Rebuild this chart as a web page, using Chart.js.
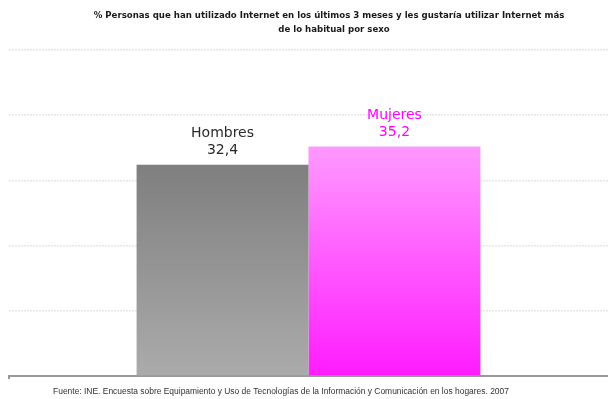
<!DOCTYPE html>
<html>
<head>
<meta charset="utf-8">
<script src="https://cdn.jsdelivr.net/npm/chart.js@4/dist/chart.umd.min.js"></script>
<style>
  html, body { margin: 0; padding: 0; background: #ffffff; }
  #wrap { position: relative; width: 608px; height: 399px; }
</style>
</head>
<body>
<div id="wrap"><canvas id="c" width="608" height="399"></canvas></div>
<script>
// Porcentaje de personas que desearían usar Internet más de lo habitual, por sexo
const categories = ['Hombres', 'Mujeres'];
const values = [32.4, 35.2];
const labelColors = ['#2a2a2a', '#ff00ff'];
const titleLines = [
  '% Personas que han utilizado Internet en los últimos 3 meses y les gustaría utilizar Internet más',
  'de lo habitual por sexo'
];
const sourceText = 'Fuente: INE. Encuesta sobre Equipamiento y Uso de Tecnologías de la Información y Comunicación en los hogares. 2007';
const yTicks = [0, 10, 20, 30, 40, 50];

// vertical gradients for each bar
const gradientStops = [
  ['#7f7f7f', '#ababab'],
  ['#ff99ff', '#ff1cff']
];

function barGradient(i) {
  return function (ctx) {
    const chart = ctx.chart;
    const area = chart.chartArea;
    const y = chart.scales && chart.scales.y;
    if (!area || !y) return gradientStops[i][0];
    const top = y.getPixelForValue(values[i]);
    if (!isFinite(top) || !isFinite(area.bottom)) return gradientStops[i][0];
    const g = chart.ctx.createLinearGradient(0, top, 0, area.bottom);
    g.addColorStop(0, gradientStops[i][0]);
    g.addColorStop(1, gradientStops[i][1]);
    return g;
  };
}

const fmt = v => v.toFixed(1).replace('.', ',');

// name + value above each bar
const barLabels = {
  id: 'barLabels',
  afterDatasetsDraw(chart) {
    const ctx = chart.ctx;
    ctx.save();
    ctx.textAlign = 'center';
    ctx.textBaseline = 'middle';
    ctx.font = '14px "DejaVu Sans", Verdana, sans-serif';
    chart.data.datasets.forEach((ds, i) => {
      const el = chart.getDatasetMeta(i).data[0];
      ctx.fillStyle = labelColors[i];
      ctx.fillText(ds.label, el.x, el.y - 31);
      ctx.fillText(fmt(ds.data[0]), el.x, el.y - 14);
    });
    ctx.restore();
  }
};

// heading, source note and the small axis tick
const frame = {
  id: 'frame',
  afterDraw(chart) {
    const ctx = chart.ctx;
    const area = chart.chartArea;
    ctx.save();
    ctx.fillStyle = '#1a1a1a';
    ctx.textAlign = 'center';
    ctx.textBaseline = 'middle';
    ctx.font = 'bold 8.6px "DejaVu Sans", Verdana, sans-serif';
    ctx.fillText(titleLines[0], 329, 16);
    ctx.fillText(titleLines[1], 334, 29.5);
    ctx.fillStyle = '#333333';
    ctx.font = '8.45px "Liberation Sans", Arial, sans-serif';
    ctx.fillText(sourceText, 281, 392);
    ctx.strokeStyle = '#999999';
    ctx.lineWidth = 2;
    ctx.beginPath();
    ctx.moveTo(area.left, area.bottom);
    ctx.lineTo(area.left, area.bottom + 3);
    ctx.stroke();
    ctx.restore();
  }
};

new Chart(document.getElementById('c'), {
  type: 'bar',
  data: {
    labels: [''],
    datasets: categories.map((c, i) => ({
      label: c,
      data: [values[i]],
      backgroundColor: barGradient(i),
      borderWidth: 0,
      categoryPercentage: 0.574,
      barPercentage: 1
    }))
  },
  options: {
    responsive: false,
    animation: false,
    events: [],
    layout: { padding: { left: 9, right: 0, top: 50, bottom: 23 } },
    plugins: {
      legend: { display: false },
      title: { display: false },
      tooltip: { enabled: false }
    },
    scales: {
      x: {
        grid: { display: false, drawTicks: false },
        ticks: { display: false },
        border: { display: true, color: '#999999', width: 2 },
        afterFit(s) { s.height = 0; }
      },
      y: {
        min: yTicks[0],
        max: yTicks[yTicks.length - 1],
        afterBuildTicks(s) { s.ticks = yTicks.map(v => ({ value: v })); },
        ticks: { display: false },
        grid: {
          color: ctx => ctx.tick && ctx.tick.value === 0 ? 'rgba(0,0,0,0)' : '#e6e6e6',
          lineWidth: 1.5,
          drawTicks: false
        },
        border: { display: false, dash: [2, 1] },
        afterFit(s) { s.width = 0; }
      }
    }
  },
  plugins: [barLabels, frame]
});
</script>
</body>
</html>
